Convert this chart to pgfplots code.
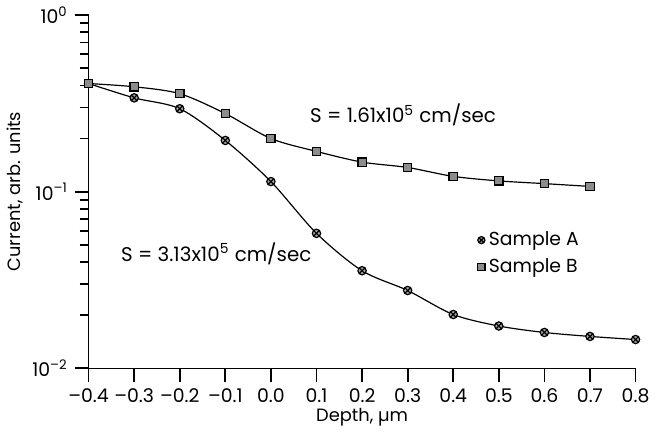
\documentclass[border=0pt]{standalone}
\usepackage{fontspec}
\setmainfont{Poppins}
\usepackage{pgfplots}
\pgfplotsset{compat=1.18}

\begin{document}
\begin{tikzpicture}
\begin{axis}[
    ymode=log,
    scale only axis,
    width=276pt, height=178pt,
    xmin=-0.4, xmax=0.8,
    ymin=0.01, ymax=1,
    axis lines*=left,
    tick align=outside,
    tick style={black, line width=0.9pt},
    major tick length=7pt,
    minor tick length=4.5pt,
    xtick={-0.4,-0.3,...,0.8},
    xticklabels={\textendash0.4,\textendash0.3,\textendash0.2,\textendash0.1,0.0,0.1,0.2,0.3,0.4,0.5,0.6,0.7,0.8},
    ytick={0.01,0.1,1},
    minor ytick={0.02,0.03,0.04,0.05,0.06,0.07,0.08,0.09,0.2,0.3,0.4,0.5,0.6,0.7,0.8,0.9},
    yticklabels={10\textsuperscript{\textendash2},10\textsuperscript{\textendash1},10\textsuperscript{0}},
    tick label style={font=\fontsize{9.5}{11}\selectfont},
    xlabel={Depth, µm},
    ylabel={Current, arb. units},
    xlabel style={font=\fontsize{9}{11}\selectfont, yshift=4pt},
    ylabel style={font=\fontsize{9}{11}\selectfont, yshift=-2pt},
    legend style={draw=none, fill=none, at={(0.70,0.41)}, anchor=north west,
        font=\fontsize{9.5}{11}\selectfont, row sep=1pt},
    legend cell align=left,
]
\addplot[black, semithick, smooth, mark=otimes*, mark size=2.1pt,
    mark options={fill=black!35, draw=black, line width=0.6pt}]
coordinates {
(-0.4,0.41) (-0.3,0.34) (-0.2,0.295) (-0.1,0.195) (0.0,0.114)
(0.1,0.058) (0.2,0.0356) (0.3,0.0275) (0.4,0.0201) (0.5,0.0173)
(0.6,0.0159) (0.7,0.0151) (0.8,0.0145)
};
\addlegendimage{only marks, mark=otimes*, mark size=1.8pt,
    mark options={fill=black!35, draw=black, line width=0.6pt}}
\addplot[black, semithick, smooth, mark=square*, mark size=2.1pt,
    mark options={fill=black!45, draw=black, line width=0.6pt}]
coordinates {
(-0.4,0.41) (-0.3,0.393) (-0.2,0.359) (-0.1,0.277) (0.0,0.2)
(0.1,0.169) (0.2,0.147) (0.3,0.137) (0.4,0.122) (0.5,0.115)
(0.6,0.111) (0.7,0.107)
};
\addlegendimage{only marks, mark=square*, mark size=1.8pt,
    mark options={fill=black!45, draw=black, line width=0.6pt}}
\legend{,Sample A,,Sample B}
\node[font=\fontsize{10}{12}\selectfont] at (axis cs:0.29,0.273) {S = 1.61x10\textsuperscript{5} cm/sec};
\node[font=\fontsize{10}{12}\selectfont] at (axis cs:-0.12,0.0446) {S = 3.13x10\textsuperscript{5} cm/sec};
\end{axis}
\end{tikzpicture}
\end{document}
